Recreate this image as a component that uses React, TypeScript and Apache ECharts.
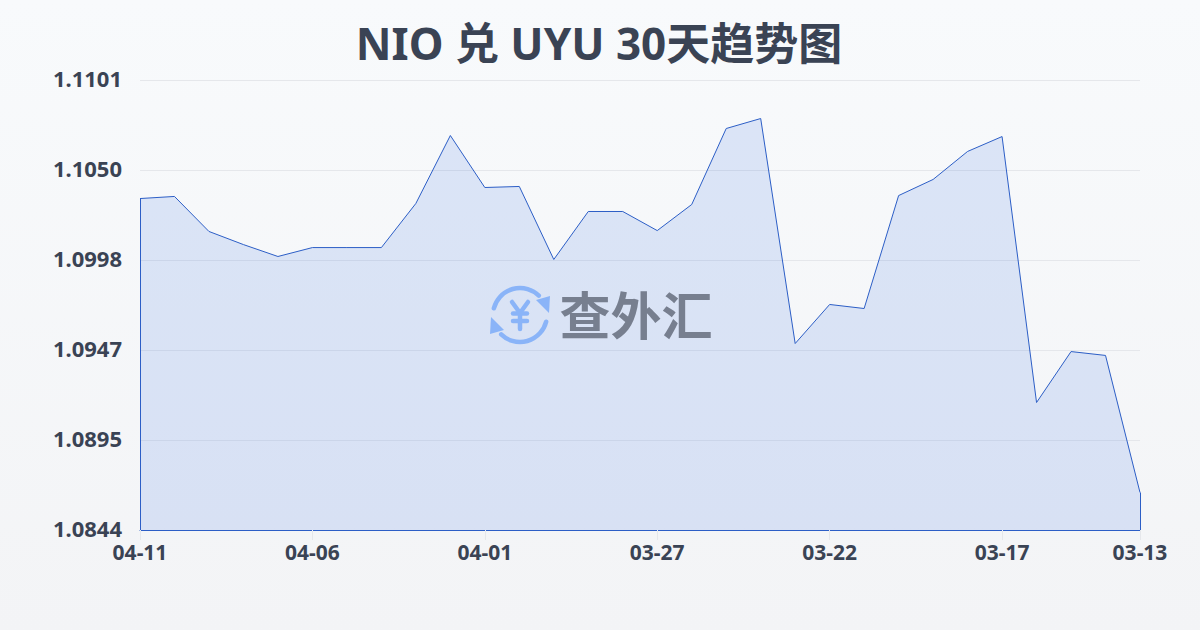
import React, { useEffect, useRef } from "react";
import * as echarts from "echarts";

const titleText = "NIO 兑 UYU 30天趋势图";
const watermarkText = "查外汇";
const dates = [
  "04-11","04-10","04-09","04-08","04-07","04-06","04-05","04-04","04-03","04-02",
  "04-01","03-31","03-30","03-29","03-28","03-27","03-26","03-25","03-24","03-23",
  "03-22","03-21","03-20","03-19","03-18","03-17","03-16","03-15","03-14","03-13",
];
const rates = [
  1.10333,1.10345,1.10145,1.1007,1.10002,1.10053,1.10053,1.10053,1.10305,1.10693,
  1.10396,1.10402,1.09985,1.10259,1.10259,1.1015,1.10299,1.10733,1.1079,1.09505,
  1.09728,1.09705,1.1035,1.10442,1.10602,1.10687,1.09168,1.09459,1.09437,1.08654,
];
const yTicks = [1.0844, 1.08954, 1.09468, 1.09982, 1.10496, 1.1101];
const xLabelIndexes = [0, 5, 10, 15, 20, 25, 29];
const yMin = 1.0844;
const yMax = 1.1101;

const TEXT = "#3a4354";
const LINE = "#2c5ec6";
const GRID = "#e5e7eb";
const ICON = "#8ab4f8";
const FONT = '"Noto Sans", "Noto Sans CJK SC", sans-serif';

export default function App() {
  const ref = useRef<HTMLDivElement>(null);
  useEffect(() => {
    document.body.style.margin = "0";
    const chart = echarts.init(ref.current!, undefined, { renderer: "svg", width: 1200, height: 630 });
    const iconLine = { stroke: ICON, lineWidth: 4.5, lineCap: "round", fill: "none" };
    chart.setOption({
      animation: false,
      backgroundColor: {
        type: "linear", x: 0, y: 0, x2: 0, y2: 1,
        colorStops: [{ offset: 0, color: "#f8fafc" }, { offset: 1, color: "#f3f4f6" }],
      },
      title: {
        text: titleText,
        left: 594,
        textAlign: "center",
        top: 16,
        textStyle: { fontFamily: FONT, fontSize: 44, fontWeight: "bold", color: TEXT },
      },
      grid: { left: 140, right: 60, top: 80, bottom: 100 },
      xAxis: {
        type: "category",
        boundaryGap: false,
        data: dates,
        axisLine: { show: true, lineStyle: { color: LINE, width: 1 } },
        axisTick: {
          show: true, length: 10, lineStyle: { color: GRID },
          interval: (i: number) => xLabelIndexes.includes(i),
        },
        axisLabel: {
          interval: (i: number) => xLabelIndexes.includes(i),
          margin: 11, fontFamily: FONT, fontSize: 21, fontWeight: "bold", color: TEXT,
          showMinLabel: true, showMaxLabel: true, hideOverlap: false,
        },
        splitLine: { show: false },
      },
      yAxis: {
        type: "value",
        min: yMin,
        max: yMax,
        axisLine: { show: false },
        axisTick: { show: false, customValues: yTicks },
        axisLabel: {
          customValues: yTicks,
          margin: 18, fontFamily: FONT, fontSize: 22, fontWeight: "bold", color: TEXT,
          verticalAlign: "bottom",
          lineHeight: 5,
          formatter: (v: number) => v.toFixed(4),
        },
        splitLine: { show: true, lineStyle: { color: GRID, width: 1 } },
      },
      series: [{
        type: "line",
        data: rates,
        symbol: "none",
        smooth: false,
        lineStyle: { color: LINE, width: 1 },
        areaStyle: { color: "rgba(47,105,225,0.14)", opacity: 1 },
        markLine: {
          silent: true,
          symbol: "none",
          label: { show: false },
          lineStyle: { color: LINE, width: 1, type: "solid" },
          data: [
            [{ xAxis: dates[0], yAxis: rates[0] }, { xAxis: dates[0], yAxis: yMin }],
            [{ xAxis: dates[29], yAxis: rates[29] }, { xAxis: dates[29], yAxis: yMin }],
          ],
        },
      }],
      graphic: [
        { type: "arc", z: 100, shape: { cx: 520, cy: 315, r: 27, startAngle: Math.PI + 0.25, endAngle: 2 * Math.PI - 0.8, clockwise: true }, style: iconLine },
        { type: "arc", z: 100, shape: { cx: 520, cy: 315, r: 27, startAngle: 0.25, endAngle: Math.PI - 0.8, clockwise: true }, style: iconLine },
        { type: "polygon", z: 100, shape: { points: [[536, 300], [550, 296], [549, 313]] }, style: { fill: ICON } },
        { type: "polygon", z: 100, shape: { points: [[504, 330], [490, 334], [491, 317]] }, style: { fill: ICON } },
        { type: "polyline", z: 100, shape: { points: [[512, 302], [520, 313], [528, 302]] }, style: iconLine },
        { type: "line", z: 100, shape: { x1: 513, y1: 313.5, x2: 527, y2: 313.5 }, style: iconLine },
        { type: "line", z: 100, shape: { x1: 513, y1: 321, x2: 527, y2: 321 }, style: iconLine },
        { type: "line", z: 100, shape: { x1: 520, y1: 313.5, x2: 520, y2: 329 }, style: iconLine },
        {
          type: "text", z: 100, x: 636, y: 313,
          style: {
            text: watermarkText, fill: "#777f8f", fontSize: 51, fontWeight: "bold",
            fontFamily: '"Noto Sans CJK SC", sans-serif', align: "center", verticalAlign: "middle",
          },
        },
      ],
    });
    return () => chart.dispose();
  }, []);
  return <div ref={ref} style={{ position: "absolute", left: 0, top: 0, width: 1200, height: 630 }} />;
}
